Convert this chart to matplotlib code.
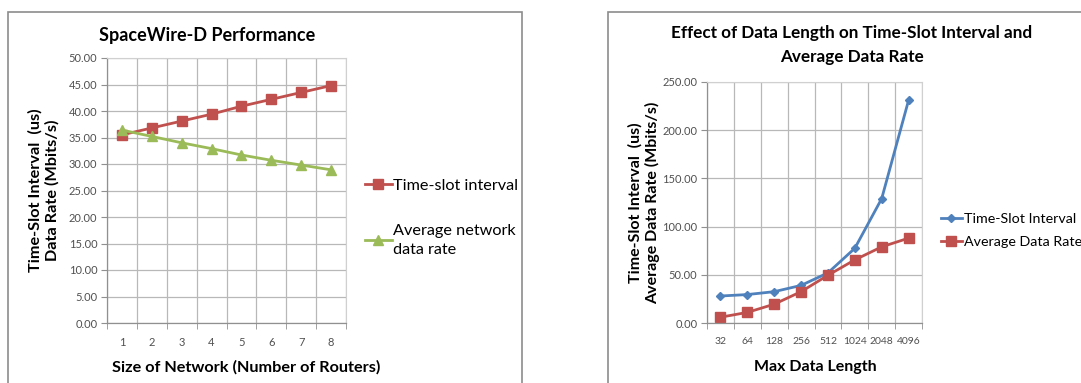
import matplotlib
matplotlib.use("Agg")
import matplotlib.pyplot as plt
from matplotlib.patches import Rectangle
from matplotlib.ticker import FixedLocator, FuncFormatter

# Data
routers = ["1", "2", "3", "4", "5", "6", "7", "8"]
timeslot_interval = [35.5, 36.8, 38.1, 39.4, 40.9, 42.2, 43.5, 44.8]
avg_network_rate = [36.4, 35.2, 34.0, 32.9, 31.7, 30.7, 29.8, 28.9]

data_lengths = ["32", "64", "128", "256", "512", "1024", "2048", "4096"]
ts_interval2 = [28.0, 29.5, 32.5, 39.0, 52.0, 77.5, 129.0, 231.0]
avg_rate2 = [6.0, 11.0, 19.5, 32.5, 49.5, 65.5, 79.0, 88.0]

RED = "#C0504D"
GREEN = "#9BBB59"
BLUE = "#4F81BD"
FONT = ["Lato", "DejaVu Sans"]

W, H = 1081, 383
fig = plt.figure(figsize=(W / 100, H / 100), dpi=100)
fig.patch.set_facecolor("white")

def px_axes(x0, y0, x1, y1):
    return fig.add_axes([x0 / W, 1 - y1 / H, (x1 - x0) / W, (y1 - y0) / H])

# panel frames
fig.add_artist(Rectangle((8 / W, -0.1), (522 - 8) / W, 1.1 - 12 / H,
                         transform=fig.transFigure, fill=False, ec="#8c8c8c", lw=1.2))
fig.add_artist(Rectangle((608 / W, -0.1), 1.0, 1.1 - 12 / H,
                         transform=fig.transFigure, fill=False, ec="#8c8c8c", lw=1.2))

def style_axes(ax, n, ymax, ystep, xfs):
    ax.set_xlim(-0.5, n - 0.5)
    ax.set_ylim(0, ymax)
    yt = [i * ystep for i in range(int(round(ymax / ystep)) + 1)]
    ax.set_yticks(yt)
    ax.yaxis.set_major_formatter(FuncFormatter(lambda v, p: f"{v:.2f}"))
    ax.set_xticks(range(n))
    ax.xaxis.set_minor_locator(FixedLocator([i - 0.5 for i in range(n + 1)]))
    ax.grid(True, axis="y", which="major", color="#b8b8b8", lw=0.9)
    ax.grid(True, axis="x", which="minor", color="#b8b8b8", lw=0.9)
    ax.tick_params(axis="x", which="major", length=0, pad=10, labelsize=xfs, labelcolor="#505050")
    ax.tick_params(axis="x", which="minor", length=4, color="#909090", direction="out")
    ax.tick_params(axis="y", length=4, color="#909090", labelsize=8, labelcolor="#505050", pad=3)
    for s in ["top", "right"]:
        ax.spines[s].set_color("#d0d0d0")
        ax.spines[s].set_linewidth(0.8)
    for s in ["left", "bottom"]:
        ax.spines[s].set_color("#909090")
        ax.spines[s].set_linewidth(0.9)
    ax.set_axisbelow(True)
    for lab in ax.get_xticklabels() + ax.get_yticklabels():
        lab.set_family(FONT)

# Left chart
ax1 = px_axes(107, 58, 346, 323)
x = list(range(len(routers)))
ax1.plot(x, timeslot_interval, color=RED, lw=2, marker="s", ms=6.5, label="Time-slot interval")
ax1.plot(x, avg_network_rate, color=GREEN, lw=2, marker="^", ms=6.5, label="Average network\ndata rate")
style_axes(ax1, len(routers), 50, 5, 8)
ax1.set_xticklabels(routers)
fig.text(207 / W, 1 - 36 / H, "SpaceWire-D Performance", ha="center", va="center",
         fontsize=13, fontweight="bold", family=FONT)
fig.text(246 / W, 1 - 367 / H, "Size of Network (Number of Routers)", ha="center", va="center",
         fontsize=11.7, fontweight="bold", family=FONT)
fig.text(44 / W, 1 - 190 / H, "Time-Slot Interval  (us)\nData Rate (Mbits/s)", ha="center", va="center",
         rotation=90, fontsize=11.7, fontweight="bold", family=FONT, linespacing=1.25)
leg1 = ax1.legend(loc="upper left", bbox_to_anchor=(358 / W, 1 - 172 / H), bbox_transform=fig.transFigure,
                  frameon=False, prop={"family": FONT, "size": 11.7}, handlelength=1.7,
                  handletextpad=0.05, labelspacing=1.9, borderaxespad=0)
for t in leg1.get_texts():
    t.set_linespacing(1.5)

# Right chart
ax2 = px_axes(707, 82, 922, 323)
x2 = list(range(len(data_lengths)))
ax2.plot(x2, ts_interval2, color=BLUE, lw=2, marker="D", ms=4.5, label="Time-Slot Interval")
ax2.plot(x2, avg_rate2, color=RED, lw=2, marker="s", ms=6.5, label="Average Data Rate")
style_axes(ax2, len(data_lengths), 250, 50, 7.5)
ax2.set_xticklabels(data_lengths)
fig.text(852 / W, 1 - 45 / H, "Effect of Data Length on Time-Slot Interval and\nAverage Data Rate",
         ha="center", va="center", fontsize=12.3, fontweight="bold", family=FONT, linespacing=1.6)
fig.text(815 / W, 1 - 367 / H, "Max Data Length", ha="center", va="center",
         fontsize=11.5, fontweight="bold", family=FONT)
fig.text(644 / W, 1 - 203 / H, "Time-Slot Interval  (us)\nAverage Data Rate (Mbits/s)", ha="center",
         va="center", rotation=90, fontsize=11.5, fontweight="bold", family=FONT, linespacing=1.25)
leg2 = ax2.legend(loc="upper left", bbox_to_anchor=(935 / W, 1 - 207 / H), bbox_transform=fig.transFigure,
                  frameon=False, prop={"family": FONT, "size": 10.3}, handlelength=1.5,
                  handletextpad=0.1, labelspacing=0.8, borderaxespad=0)

fig.savefig("out.png", dpi=100)
